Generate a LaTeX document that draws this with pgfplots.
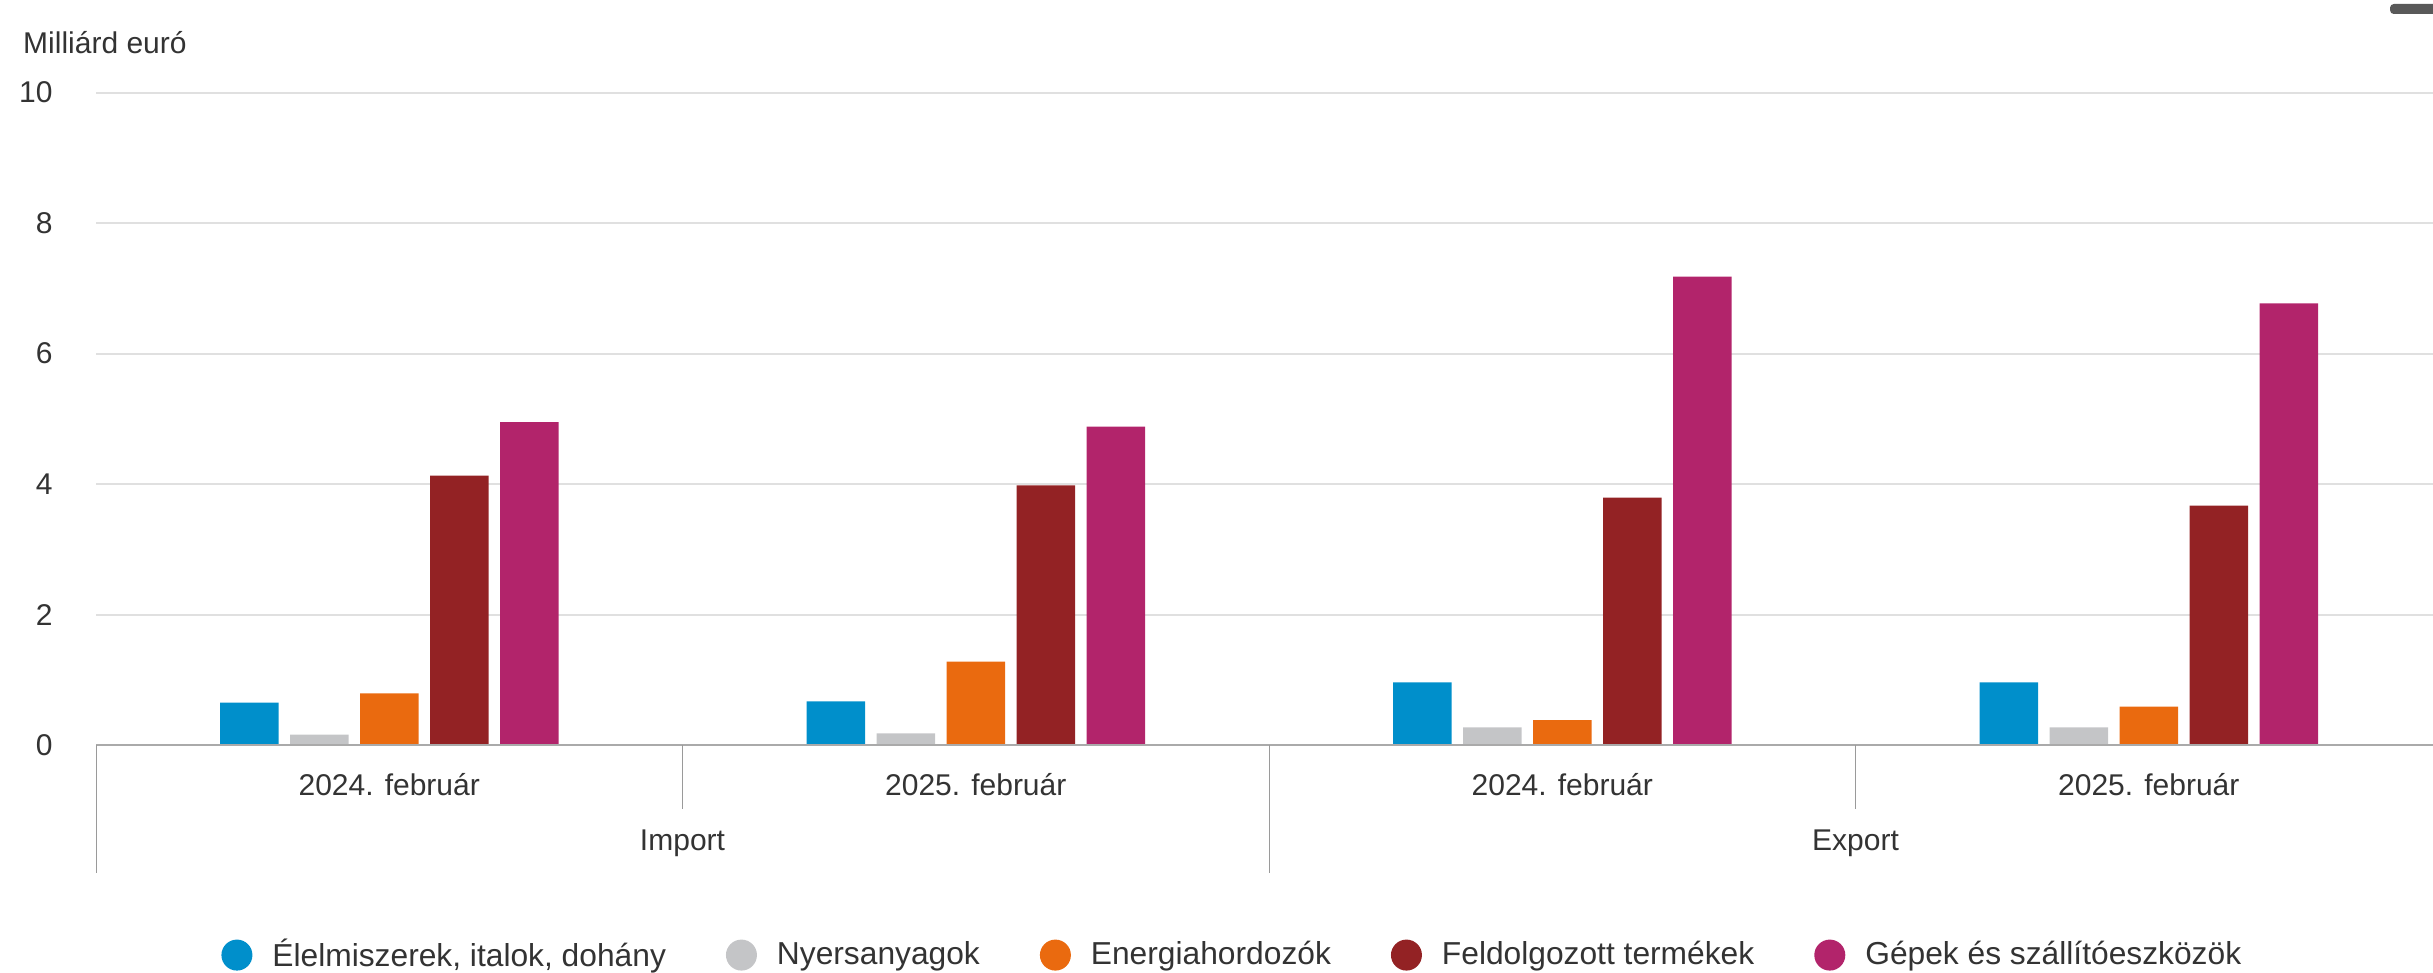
\documentclass[border=0pt]{standalone}
\usepackage{fontspec}
\setmainfont{Liberation Sans}
\usepackage{pgfplots}
\pgfplotsset{compat=1.18}
\definecolor{cblue}{HTML}{008FCB}
\definecolor{cgray}{HTML}{C4C5C7}
\definecolor{corange}{HTML}{EA6A0F}
\definecolor{cdred}{HTML}{932224}
\definecolor{cmag}{HTML}{B2246B}
\definecolor{ctext}{HTML}{333333}
\definecolor{cgrid}{HTML}{E0E0E0}
\definecolor{caxis}{HTML}{AAAAAA}
\definecolor{csep}{HTML}{9A9A9A}
\begin{document}
\begin{tikzpicture}
\useasboundingbox (0,0) rectangle (973.2pt,388.8pt);
\begin{axis}[
  at={(38.4pt,90.8pt)}, anchor=south west,
  scale only axis, width=938.4pt, height=260.96pt,
  xmin=-0.5, xmax=3.5, ymin=0, ymax=10,
  ytick={0,2,...,10},
  xtick={0,1,2,3},
  xticklabels={2024. február, 2025. február, 2024. február, 2025. február},
  axis line style={draw=none},
  tick style={draw=none}, major tick length=0pt,
  ymajorgrids, grid style={draw=cgrid, line width=0.8pt},
  /pgf/number format/assume math mode=true,
  yticklabel style={anchor=east, inner sep=0pt, xshift=-17.2pt, font=\fontsize{12}{14}\selectfont, text=ctext},
  xticklabel style={anchor=center, inner sep=0pt, yshift=-16pt, font=\fontsize{12}{14}\selectfont, text=ctext},
  clip=false,
  legend columns=5,
  legend style={draw=none, fill=none, at={(0.485,-0.322)}, anchor=center,
    font=\fontsize{12.7}{15}\selectfont, text=ctext,
    /tikz/every even column/.append style={column sep=22pt},
    /tikz/every odd column/.append style={column sep=6pt}},
  legend image code/.code={\fill[#1] (0pt,0pt) circle (6.2pt);},
]
\addplot[ybar, bar width=23.4pt, bar shift=-56pt, fill=cblue, draw=none] coordinates {(0,0.65) (1,0.67) (2,0.96) (3,0.96)};
\addlegendentry{Élelmiszerek, italok, dohány}
\addplot[ybar, bar width=23.4pt, bar shift=-28pt, fill=cgray, draw=none] coordinates {(0,0.16) (1,0.18) (2,0.27) (3,0.27)};
\addlegendentry{Nyersanyagok}
\addplot[ybar, bar width=23.4pt, bar shift=0pt, fill=corange, draw=none] coordinates {(0,0.79) (1,1.28) (2,0.38) (3,0.59)};
\addlegendentry{Energiahordozók}
\addplot[ybar, bar width=23.4pt, bar shift=28pt, fill=cdred, draw=none] coordinates {(0,4.13) (1,3.98) (2,3.79) (3,3.67)};
\addlegendentry{Feldolgozott termékek}
\addplot[ybar, bar width=23.4pt, bar shift=56pt, fill=cmag, draw=none] coordinates {(0,4.95) (1,4.88) (2,7.18) (3,6.77)};
\addlegendentry{Gépek és szállítóeszközök}
% baseline and separators
\draw[caxis, line width=0.8pt] (axis cs:-0.5,0) -- (axis cs:3.5,0);
\draw[csep, line width=0.4pt] (axis cs:-0.5,0) -- ([yshift=-51.2pt]axis cs:-0.5,0);
\draw[csep, line width=0.4pt] (axis cs:1.5,0) -- ([yshift=-51.2pt]axis cs:1.5,0);
\draw[csep, line width=0.4pt] (axis cs:3.5,0) -- ([yshift=-51.2pt]axis cs:3.5,0);
\draw[csep, line width=0.4pt] (axis cs:0.5,0) -- ([yshift=-25.6pt]axis cs:0.5,0);
\draw[csep, line width=0.4pt] (axis cs:2.5,0) -- ([yshift=-25.6pt]axis cs:2.5,0);
\node[text=ctext, font=\fontsize{12}{14}\selectfont, inner sep=0pt, anchor=center] at ([yshift=-39.3pt]axis cs:0.5,0) {Import};
\node[text=ctext, font=\fontsize{12}{14}\selectfont, inner sep=0pt, anchor=center] at ([yshift=-39.3pt]axis cs:2.5,0) {Export};
\end{axis}
\node[text=ctext, font=\fontsize{12}{14}\selectfont, inner sep=0pt, anchor=base west] at (9.1pt,367.5pt) {Milliárd euró};
\fill[black!65, rounded corners=1.5pt] (956pt,383.2pt) rectangle (980pt,387.2pt);
\end{tikzpicture}
\end{document}
